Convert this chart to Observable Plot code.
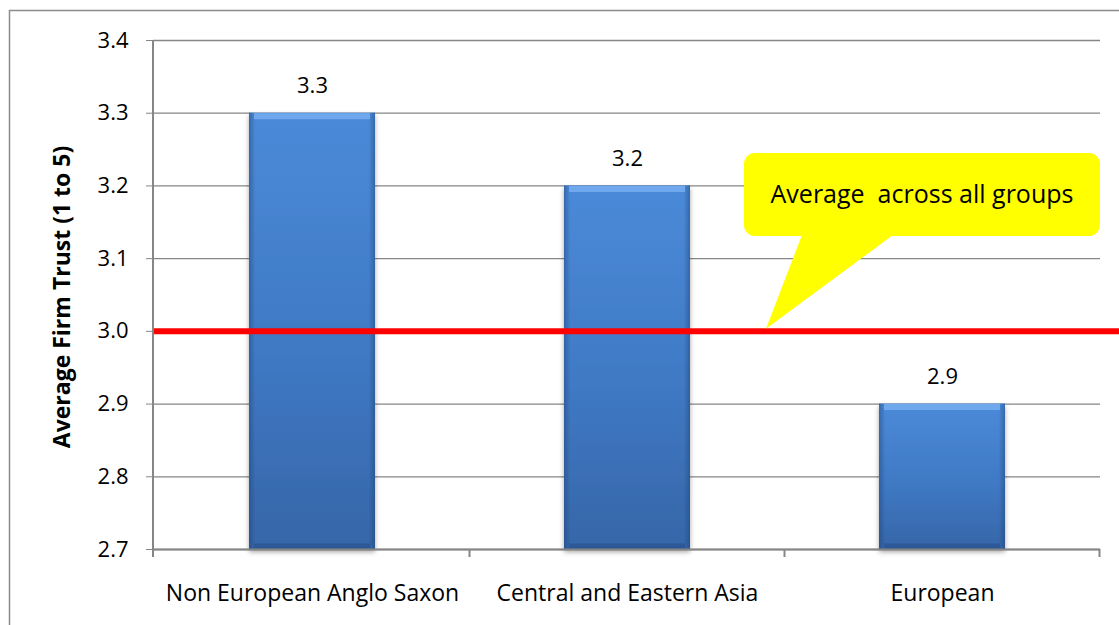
<!DOCTYPE html>
<html>
<head>
<meta charset="utf-8">
<script src="https://cdn.jsdelivr.net/npm/d3@7"></script>
<script src="https://cdn.jsdelivr.net/npm/@observablehq/plot@0.6"></script>
<style>
  html, body { margin: 0; padding: 0; background: #fff; }
  #chart { width: 1119px; height: 625px; overflow: hidden; }
  #chart svg { display: block; }
</style>
</head>
<body>
<div id="chart"></div>
<script>
// Average firm trust by group of origin
const groups = ["Non European Anglo Saxon", "Central and Eastern Asia", "European"];
const trust = [3.3, 3.2, 2.9];
const yTicks = [2.7, 2.8, 2.9, 3.0, 3.1, 3.2, 3.3, 3.4];
const overallAverage = 3.0;
const yTitle = "Average Firm Trust (1 to 5)";
const calloutText = "Average  across all groups";

const rows = groups.map((g, i) => ({group: g, trust: trust[i]}));

const FONT = "'Open Sans', 'Liberation Sans', sans-serif";
const axisGray = "#868686";
const fmt = d3.format(".1f");

// gradients and shadow used by the bars
const defs = () => {
  const d = d3.create("svg:defs");
  const g1 = d.append("linearGradient").attr("id", "barFill")
    .attr("x1", 0).attr("y1", 0).attr("x2", 0).attr("y2", 1);
  g1.append("stop").attr("offset", "0%").attr("stop-color", "#4b8ad8");
  g1.append("stop").attr("offset", "55%").attr("stop-color", "#3f79c4");
  g1.append("stop").attr("offset", "100%").attr("stop-color", "#3666a8");
  const g2 = d.append("linearGradient").attr("id", "barEdge")
    .attr("x1", 0).attr("y1", 0).attr("x2", 1).attr("y2", 0);
  g2.append("stop").attr("offset", "0%").attr("stop-color", "#1d3f73").attr("stop-opacity", 0.45);
  g2.append("stop").attr("offset", "5%").attr("stop-color", "#1d3f73").attr("stop-opacity", 0);
  g2.append("stop").attr("offset", "95%").attr("stop-color", "#1d3f73").attr("stop-opacity", 0);
  g2.append("stop").attr("offset", "100%").attr("stop-color", "#1d3f73").attr("stop-opacity", 0.45);
  const f = d.append("filter").attr("id", "barShadow")
    .attr("x", "-10%").attr("y", "-10%").attr("width", "120%").attr("height", "120%");
  f.append("feDropShadow").attr("dx", 0).attr("dy", 3).attr("stdDeviation", 2.5)
    .attr("flood-color", "#000").attr("flood-opacity", 0.35);
  return d.node();
};

const plot = Plot.plot({
  width: 1119,
  height: 625,
  marginLeft: 153,
  marginRight: 19,
  marginTop: 40,
  marginBottom: 76,
  style: {fontFamily: FONT, fontSize: "22px", color: "#000", background: "#fff"},
  x: {domain: groups, paddingInner: 0.6, paddingOuter: 0.3, label: null},
  y: {domain: [2.7, 3.4], label: null},
  marks: [
    defs,
    Plot.gridY(yTicks, {stroke: axisGray, strokeOpacity: 1, strokeWidth: 1.3}),
    Plot.axisY(yTicks, {tickSize: 7, tickPadding: 18, tickFormat: fmt, stroke: axisGray, fill: "#000", fontSize: 22, label: null}),
    Plot.axisX({tickSize: 0, tickPadding: 35, fill: "#000", fontSize: 23, label: null}),
    Plot.barY(rows, {x: "group", y1: 2.7, y2: "trust", fill: "url(#barFill)"}),
    Plot.barY(rows, {x: "group", y1: 2.7, y2: "trust", fill: "url(#barEdge)"}),
    Plot.tickY(rows, {x: "group", y: "trust", stroke: "#6fa8ec", strokeWidth: 6, dy: 3, insetLeft: 5, insetRight: 5}),
    Plot.tickY(rows, {x: "group", y: 2.7, stroke: "#264d86", strokeOpacity: 0.55, strokeWidth: 6, dy: -3, insetLeft: 5, insetRight: 5}),
    Plot.ruleY([2.7], {stroke: axisGray, strokeWidth: 2}),
    Plot.text(rows, {x: "group", y: "trust", text: d => fmt(d.trust), dy: -27, fontSize: 22, fill: "#000"}),
    Plot.ruleY([overallAverage], {stroke: "#ff0000", strokeWidth: 6, insetRight: -19}),
    Plot.text([yTitle], {text: d => d, frameAnchor: "left", textAnchor: "middle", rotate: -90, dx: -91, dy: 2, fontSize: 23, fontWeight: "bold", fill: "#000"})
  ]
});

const svg = d3.select(plot);
svg.select('g[aria-label="bar"]').attr("filter", "url(#barShadow)");

const xs = plot.scale("x");
const ys = plot.scale("y");
const [x0, x1] = xs.range;
const yBottom = ys.apply(2.7);
const yTop = ys.apply(3.4);

// left axis line
svg.append("line")
  .attr("x1", x0).attr("x2", x0).attr("y1", yTop).attr("y2", yBottom)
  .attr("stroke", axisGray).attr("stroke-width", 2);

// category separators below the bottom axis
const sep = [x0, ...groups.map(g => xs.apply(g) + xs.bandwidth + (xs.step - xs.bandwidth) / 2)];
svg.append("g").selectAll("line").data(sep).join("line")
  .attr("x1", d => d).attr("x2", d => d)
  .attr("y1", yBottom).attr("y2", yBottom + 8)
  .attr("stroke", axisGray).attr("stroke-width", 2);

// callout pointing at the average line
const tipY = ys.apply(overallAverage) - 2;
const box = {x: 744, y: 153, w: 356, h: 83};
const callout = svg.append("g");
callout.append("path")
  .attr("d", `M802,${box.y + box.h - 1} L893,${box.y + box.h - 1} L766,${tipY} Z`)
  .attr("fill", "#ffff00");
callout.append("rect")
  .attr("x", box.x).attr("y", box.y).attr("width", box.w).attr("height", box.h)
  .attr("rx", 11).attr("fill", "#ffff00");
callout.append("text")
  .attr("x", box.x + box.w / 2).attr("y", 203)
  .attr("text-anchor", "middle")
  .attr("xml:space", "preserve")
  .style("white-space", "pre")
  .attr("font-family", FONT).attr("font-size", 25).attr("fill", "#000")
  .text(calloutText);

// chart border
svg.append("rect")
  .attr("x", 9.5).attr("y", 10.5).attr("width", 1300).attr("height", 800)
  .attr("fill", "none").attr("stroke", "#8c8c8c").attr("stroke-width", 1.5);

document.getElementById("chart").appendChild(plot);
</script>
</body>
</html>
